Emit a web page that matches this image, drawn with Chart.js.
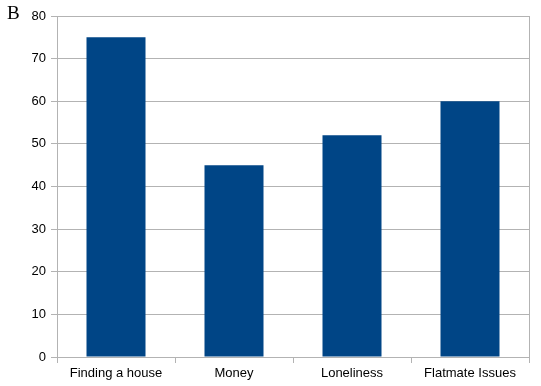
<!DOCTYPE html>
<html>
<head>
<meta charset="utf-8">
<script src="https://cdn.jsdelivr.net/npm/chart.js@4/dist/chart.umd.min.js"></script>
<style>
  html, body { margin: 0; padding: 0; background: #fff; }
  #wrap { position: relative; width: 541px; height: 386px; }
  #panel { position: absolute; left: 7px; top: 2px; font-family: "Liberation Serif", serif; font-size: 19px; color: #000; }
</style>
</head>
<body>
<div id="wrap">
  <canvas id="chart" width="541" height="386"></canvas>
  <div id="panel">B</div>
</div>
<script>
// chart data
const categories = ['Finding a house', 'Money', 'Loneliness', 'Flatmate Issues'];
const values = [75, 45, 52, 60];
const yTicks = [0, 10, 20, 30, 40, 50, 60, 70, 80];

const gridColor = '#b3b3b3';

// draws the box around the plot area
const frameBox = {
    id: 'frameBox',
    afterDatasetsDraw(chart) {
        const a = chart.chartArea;
        const ctx = chart.ctx;
        ctx.save();
        ctx.strokeStyle = gridColor;
        ctx.lineWidth = 1;
        ctx.strokeRect(Math.round(a.left) + 0.5, Math.round(a.top) + 0.5,
            Math.round(a.right - a.left), Math.round(a.bottom - a.top));
        ctx.restore();
    }
};

new Chart(document.getElementById('chart').getContext('2d'), {
    type: 'bar',
    data: {
        labels: categories,
        datasets: [{
            data: values,
            backgroundColor: '#004586',
            barPercentage: 0.5,
            categoryPercentage: 1.0
        }]
    },
    options: {
        responsive: false,
        animation: false,
        layout: { padding: { top: 16, right: 12, left: 0, bottom: 0 } },
        plugins: {
            legend: { display: false },
            tooltip: { enabled: false }
        },
        scales: {
            x: {
                offset: true,
                grid: {
                    offset: true,
                    drawOnChartArea: false,
                    color: gridColor,
                    tickLength: 6
                },
                border: { color: gridColor },
                ticks: {
                    color: '#000',
                    padding: 3,
                    maxRotation: 0,
                    font: { family: 'Liberation Sans', size: 13 }
                },
                afterFit(axis) { axis.height = 29; }
            },
            y: {
                min: 0,
                max: 80,
                afterBuildTicks(axis) { axis.ticks = yTicks.map(v => ({ value: v })); },
                grid: { color: gridColor, tickLength: 6 },
                border: { color: gridColor },
                ticks: {
                    color: '#000',
                    padding: 5,
                    font: { family: 'Liberation Sans', size: 13 }
                },
                afterFit(axis) { axis.width = 57; }
            }
        }
    },
    plugins: [frameBox]
});
</script>
</body>
</html>
